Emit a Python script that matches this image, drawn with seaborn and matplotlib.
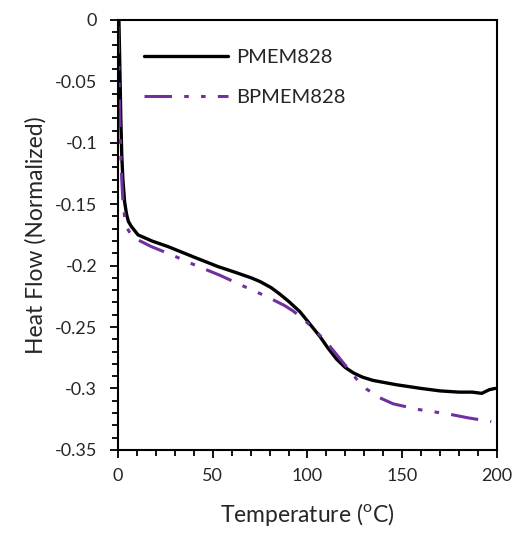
import matplotlib
matplotlib.use("Agg")
import matplotlib.pyplot as plt
import seaborn as sns
import pandas as pd
from matplotlib.ticker import MultipleLocator

pmem_x = [0.5, 1, 1.5, 2, 2.6, 3.5, 4.5, 5.5, 7, 10.6, 18, 26.4, 40, 52.8, 62, 70.4, 75, 80.9,
          85.5, 90, 96, 101, 106.6, 111, 115.4, 120, 124.2, 129, 134.7, 147, 160, 170, 180,
          187, 192, 196, 199]
pmem_y = [0, -0.04, -0.08, -0.11, -0.13, -0.148, -0.158, -0.164, -0.168, -0.175, -0.180,
          -0.1845, -0.193, -0.2008, -0.2055, -0.2100, -0.2130, -0.2180, -0.2233, -0.2290,
          -0.2375, -0.2470, -0.2578, -0.2675, -0.2762, -0.2830, -0.2873, -0.2908, -0.2935,
          -0.297, -0.300, -0.302, -0.303, -0.303, -0.304, -0.301, -0.300]

bpmem_x = [0, 0.5, 1, 1.5, 2, 2.6, 3.5, 4.7, 6.5, 8.8, 17.6, 28, 40.4, 54, 66.8, 78.5, 87.9,
           92.5, 97, 102, 107, 112, 117, 122, 126.5, 131.2, 138, 145.2, 158, 175, 185, 197]
bpmem_y = [-0.005, -0.04, -0.08, -0.11, -0.13, -0.147, -0.160, -0.169, -0.174, -0.1777,
           -0.1845, -0.191, -0.1994, -0.208, -0.2171, -0.2252, -0.2325, -0.2370, -0.2425,
           -0.2495, -0.2575, -0.2660, -0.2755, -0.2850, -0.2935, -0.3005, -0.3075, -0.3125,
           -0.317, -0.321, -0.324, -0.327]

sns.set_theme(style="white")
plt.rcParams['font.family'] = ['Lato', 'DejaVu Sans']

fig = plt.figure(figsize=(5.22, 5.33), dpi=100)
ax = fig.add_axes([0.226, 0.156, 0.726, 0.8065])

df1 = pd.DataFrame({"x": pmem_x, "y": pmem_y})
df2 = pd.DataFrame({"x": bpmem_x, "y": bpmem_y})
sns.lineplot(data=df1, x="x", y="y", sort=False, color="black", linewidth=2.4,
             label="PMEM828", ax=ax)
sns.lineplot(data=df2, x="x", y="y", sort=False, color="#7030A0", linewidth=2.2,
             label="BPMEM828", ax=ax)
ax.lines[1].set_dashes([9, 4, 1.5, 4, 1.5, 4])

ax.set_xlim(0, 200)
ax.set_ylim(-0.35, 0)
ax.xaxis.set_major_locator(MultipleLocator(50))
ax.xaxis.set_minor_locator(MultipleLocator(10))
ax.yaxis.set_major_locator(MultipleLocator(0.05))
ax.yaxis.set_minor_locator(MultipleLocator(0.01))
ax.yaxis.set_major_formatter(matplotlib.ticker.FuncFormatter(
    lambda v, p: "0" if abs(v) < 1e-9 else f"{v:g}"))

for s in ax.spines.values():
    s.set_color("black")
    s.set_linewidth(1.5)
ax.tick_params(which="both", direction="out", color="black", width=1.3,
               bottom=True, left=True, labelsize=13, labelcolor="#262626")
ax.tick_params(which="major", length=6)
ax.tick_params(which="minor", length=4)
ax.tick_params(axis="y", which="major", pad=9)
ax.tick_params(axis="x", which="major", pad=7)

ax.set_xlabel("Temperature (${}^{\\mathregular{o}}$C)", fontsize=16.5, color="#262626",
              labelpad=12)
ax.set_ylabel("Heat Flow (Normalized)", fontsize=16.5, color="#262626", labelpad=6)

leg = ax.legend(loc="upper left", bbox_to_anchor=(0.02, 0.975), frameon=False,
                fontsize=14.5, handlelength=4.2, labelspacing=1.15, handletextpad=0.4)
for t in leg.get_texts():
    t.set_color("#262626")

fig.savefig("out.png", dpi=100)
